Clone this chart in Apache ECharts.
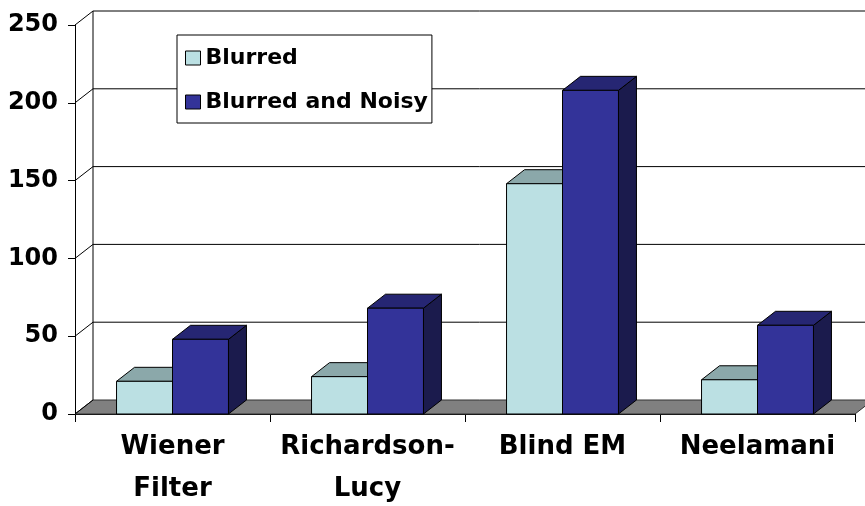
<!DOCTYPE html>
<html>
<head>
<meta charset="utf-8">
<script src="https://cdn.jsdelivr.net/npm/echarts@6/dist/echarts.min.js"></script>
<style>
  html, body { margin: 0; padding: 0; background: #fff; }
  #chart { width: 865px; height: 506px; }
</style>
</head>
<body>
<div id="chart"></div>
<script>
// Data
const categories = ['Wiener\nFilter', 'Richardson-\nLucy', 'Blind EM', 'Neelamani'];
const blurred = [21, 24, 148, 22];
const blurredNoisy = [48, 68, 208, 57];
const yTicks = [0, 50, 100, 150, 200, 250];
const seriesNames = ['Blurred', 'Blurred and Noisy'];

// Pseudo-3D depth of the plot (pixels)
const DX = 18, DY = -14;
const BAR_FRAC = 0.287; // bar width as a fraction of the category band

const palette = [
  { front: '#BBE0E3', top: '#8BA8AA', side: '#7E9FA1' },
  { front: '#333399', top: '#262673', side: '#1B1B4D' }
];
const FONT = 'DejaVu Sans';

function makeBarRenderer(idx) {
  const c = palette[idx];
  return function (params, api) {
    const cat = api.value(0), v = api.value(1);
    const base = api.coord([cat, 0]);
    const top = api.coord([cat, v]);
    const w = api.size([1, 0])[0] * BAR_FRAC;
    const x0 = idx === 0 ? base[0] - w : base[0];
    const x1 = x0 + w;
    const yt = top[1], yb = base[1];
    const stroke = { stroke: '#000', lineWidth: 1 };
    return {
      type: 'group',
      children: [
        { type: 'polygon', shape: { points: [[x1, yt], [x1 + DX, yt + DY], [x1 + DX, yb + DY], [x1, yb]] },
          style: Object.assign({ fill: c.side }, stroke) },
        { type: 'polygon', shape: { points: [[x0, yt], [x1, yt], [x1 + DX, yt + DY], [x0 + DX, yt + DY]] },
          style: Object.assign({ fill: c.top }, stroke) },
        { type: 'rect', shape: { x: x0, y: yt, width: w, height: yb - yt },
          style: Object.assign({ fill: c.front }, stroke) }
      ]
    };
  };
}

// Floor, back wall and side-wall lines, one item per y tick
function renderWalls(params, api) {
  const cs = params.coordSys;
  const v = api.value(1);
  const y = api.coord([0, v])[1];
  const left = cs.x, right = cs.x + cs.width;
  const children = [];
  const line = { stroke: '#000', lineWidth: 1 };
  if (v === yTicks[0]) {
    children.push({ type: 'polygon',
      shape: { points: [[left, y], [right, y], [right + DX, y + DY], [left + DX, y + DY]] },
      style: { fill: '#808080', stroke: '#333', lineWidth: 1 } });
  } else {
    children.push({ type: 'line', shape: { x1: left + DX, y1: y + DY, x2: right + DX + 40, y2: y + DY }, style: line });
  }
  children.push({ type: 'line', shape: { x1: left, y1: y, x2: left + DX, y2: y + DY }, style: line });
  if (v === yTicks[yTicks.length - 1]) {
    const y0 = api.coord([0, yTicks[0]])[1];
    children.push({ type: 'line', shape: { x1: left + DX, y1: y + DY, x2: left + DX, y2: y0 + DY }, style: line });
  }
  return { type: 'group', children: children };
}

const chart = echarts.init(document.getElementById('chart'), null, { renderer: 'canvas' });
chart.setOption({
  animation: false,
  backgroundColor: '#fff',
  grid: { left: 75, right: 10, top: 25, bottom: 92, containLabel: false, outerBoundsMode: 'none' },
  legend: {
    orient: 'vertical',
    left: 177, top: 35,
    padding: [12, 4, 10, 8],
    itemGap: 22,
    itemWidth: 15, itemHeight: 14,
    itemTextGap: 12,
    backgroundColor: '#fff',
    borderColor: '#000', borderWidth: 1,
    icon: 'rect',
    textStyle: { fontFamily: FONT, fontWeight: 'bold', fontSize: 22, color: '#000', lineHeight: 22 },
    data: seriesNames.map((n, i) => ({
      name: n,
      itemStyle: { color: palette[i].front, borderColor: '#000', borderWidth: 1 }
    }))
  },
  xAxis: {
    type: 'category',
    data: categories,
    axisLine: { lineStyle: { color: '#000', width: 1 } },
    axisTick: { show: true, length: 8, lineStyle: { color: '#000' } },
    axisLabel: { margin: 12, fontFamily: FONT, fontWeight: 'bold', fontSize: 26, lineHeight: 42, color: '#000', interval: 0 },
    splitLine: { show: false }
  },
  yAxis: {
    type: 'value',
    min: yTicks[0], max: yTicks[yTicks.length - 1], interval: yTicks[1] - yTicks[0],
    axisLine: { show: true, lineStyle: { color: '#000', width: 1 } },
    axisTick: { show: true, length: 7, lineStyle: { color: '#000' } },
    axisLabel: { margin: 17, fontFamily: FONT, fontWeight: 'bold', fontSize: 24, color: '#000' },
    splitLine: { show: false }
  },
  series: [
    {
      type: 'custom', name: 'walls', z: 1, silent: true,
      renderItem: renderWalls,
      data: yTicks.map(t => [0, t])
    },
    {
      type: 'custom', name: seriesNames[0], z: 3,
      itemStyle: { color: palette[0].front },
      renderItem: makeBarRenderer(0),
      data: blurred.map((v, i) => [i, v])
    },
    {
      type: 'custom', name: seriesNames[1], z: 4,
      itemStyle: { color: palette[1].front },
      renderItem: makeBarRenderer(1),
      data: blurredNoisy.map((v, i) => [i, v])
    }
  ]
});
</script>
</body>
</html>
